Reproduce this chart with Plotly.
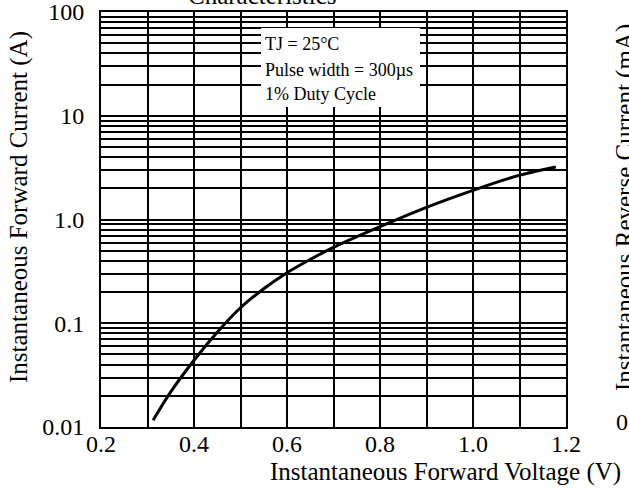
import plotly.graph_objects as go

# Data
voltage = [0.312, 0.35, 0.40, 0.45, 0.50, 0.55, 0.60, 0.65, 0.70, 0.80, 0.90, 1.00, 1.10, 1.178]
current = [0.0116, 0.0218, 0.044, 0.082, 0.141, 0.215, 0.307, 0.412, 0.539, 0.853, 1.31, 1.91, 2.67, 3.21]

x_tick_vals = [0.2, 0.3, 0.4, 0.5, 0.6, 0.7, 0.8, 0.9, 1.0, 1.1, 1.2]
x_tick_text = ["0.2", "", "0.4", "", "0.6", "", "0.8", "", "1.0", "", "1.2"]

decade_labels = {-2: "0.01", -1: "0.1", 0: "1.0", 1: "10", 2: "100"}
y_tick_vals = []
y_tick_text = []
for e in range(-2, 2):
    for m in range(1, 10):
        y_tick_vals.append(m * 10 ** e)
        y_tick_text.append(decade_labels[e] if m == 1 else "")
y_tick_vals.append(100)
y_tick_text.append("100")

note_lines = ["TJ = 25°C", "Pulse width = 300µs", "1% Duty Cycle"]

FONT = "Liberation Serif"

fig = go.Figure()
fig.add_trace(go.Scatter(
    x=voltage, y=current, mode="lines",
    line=dict(color="black", width=3, shape="spline"),
    showlegend=False, hoverinfo="skip",
))

# geometry helpers: reference pixel coords -> paper coords
L, R, T, B = 101, 566, 12, 427
W, H = R - L, B - T
def px(xp):
    return (xp - L) / W
def py(yp):
    return (B - yp) / H

fig.update_layout(
    width=629, height=490,
    margin=dict(l=L, r=629 - R, t=T, b=490 - B),
    paper_bgcolor="white", plot_bgcolor="white",
    font=dict(family=FONT, color="black", size=24),
    xaxis=dict(
        range=[0.2, 1.2], tickmode="array", tickvals=x_tick_vals, ticktext=x_tick_text,
        showgrid=True, gridcolor="black", gridwidth=1.6,
        showline=True, linecolor="black", linewidth=2, mirror=True,
        ticks="", ticklabelstandoff=-6, zeroline=False, automargin=False,
        ticklabeloverflow="allow", tickfont=dict(family=FONT, size=24),
    ),
    yaxis=dict(
        type="log", range=[-2, 2], tickmode="array", tickvals=y_tick_vals, ticktext=y_tick_text,
        showgrid=True, gridcolor="black", gridwidth=1.6,
        showline=True, linecolor="black", linewidth=2, mirror=True,
        ticks="", ticklabelstandoff=10, zeroline=False, automargin=False,
        ticklabeloverflow="allow", tickfont=dict(family=FONT, size=24),
    ),
)

# white note box covering grid
fig.add_shape(type="rect", xref="paper", yref="paper",
              x0=px(261), x1=px(420), y0=py(107), y1=py(28),
              fillcolor="white", line=dict(width=0), layer="above")

for text, yp in zip(note_lines, [44, 70, 94]):
    fig.add_annotation(text=text, xref="paper", yref="paper", x=px(263), y=py(yp),
                       xanchor="left", yanchor="middle", showarrow=False,
                       font=dict(family=FONT, size=18, color="black"))

# cut-off title at the top
fig.add_annotation(text="Characteristics", xref="paper", yref="paper",
                   x=px(262), y=py(-4), xanchor="center", yanchor="middle",
                   showarrow=False, font=dict(family=FONT, size=25, color="black"))

# axis titles
fig.add_annotation(text="Instantaneous Forward Voltage (V)", xref="paper", yref="paper",
                   x=px(445), y=py(472), xanchor="center", yanchor="middle",
                   showarrow=False, font=dict(family=FONT, size=25, color="black"))
fig.add_annotation(text="Instantaneous Forward Current (A)", xref="paper", yref="paper",
                   x=px(19), y=py(207), xanchor="center", yanchor="middle", textangle=-90,
                   showarrow=False, font=dict(family=FONT, size=25, color="black"))

# neighbouring chart fragments on the right
fig.add_annotation(text="Instantaneous Reverse Current (mA)", xref="paper", yref="paper",
                   x=px(625), y=py(208), xanchor="center", yanchor="middle", textangle=-90,
                   showarrow=False, font=dict(family=FONT, size=25, color="black"))
fig.add_annotation(text="0", xref="paper", yref="paper",
                   x=px(614), y=py(422), xanchor="left", yanchor="middle",
                   showarrow=False, font=dict(family=FONT, size=24, color="black"))

fig.write_html("out.html", config={"displayModeBar": False},
               post_script="document.body.style.margin='0';")
